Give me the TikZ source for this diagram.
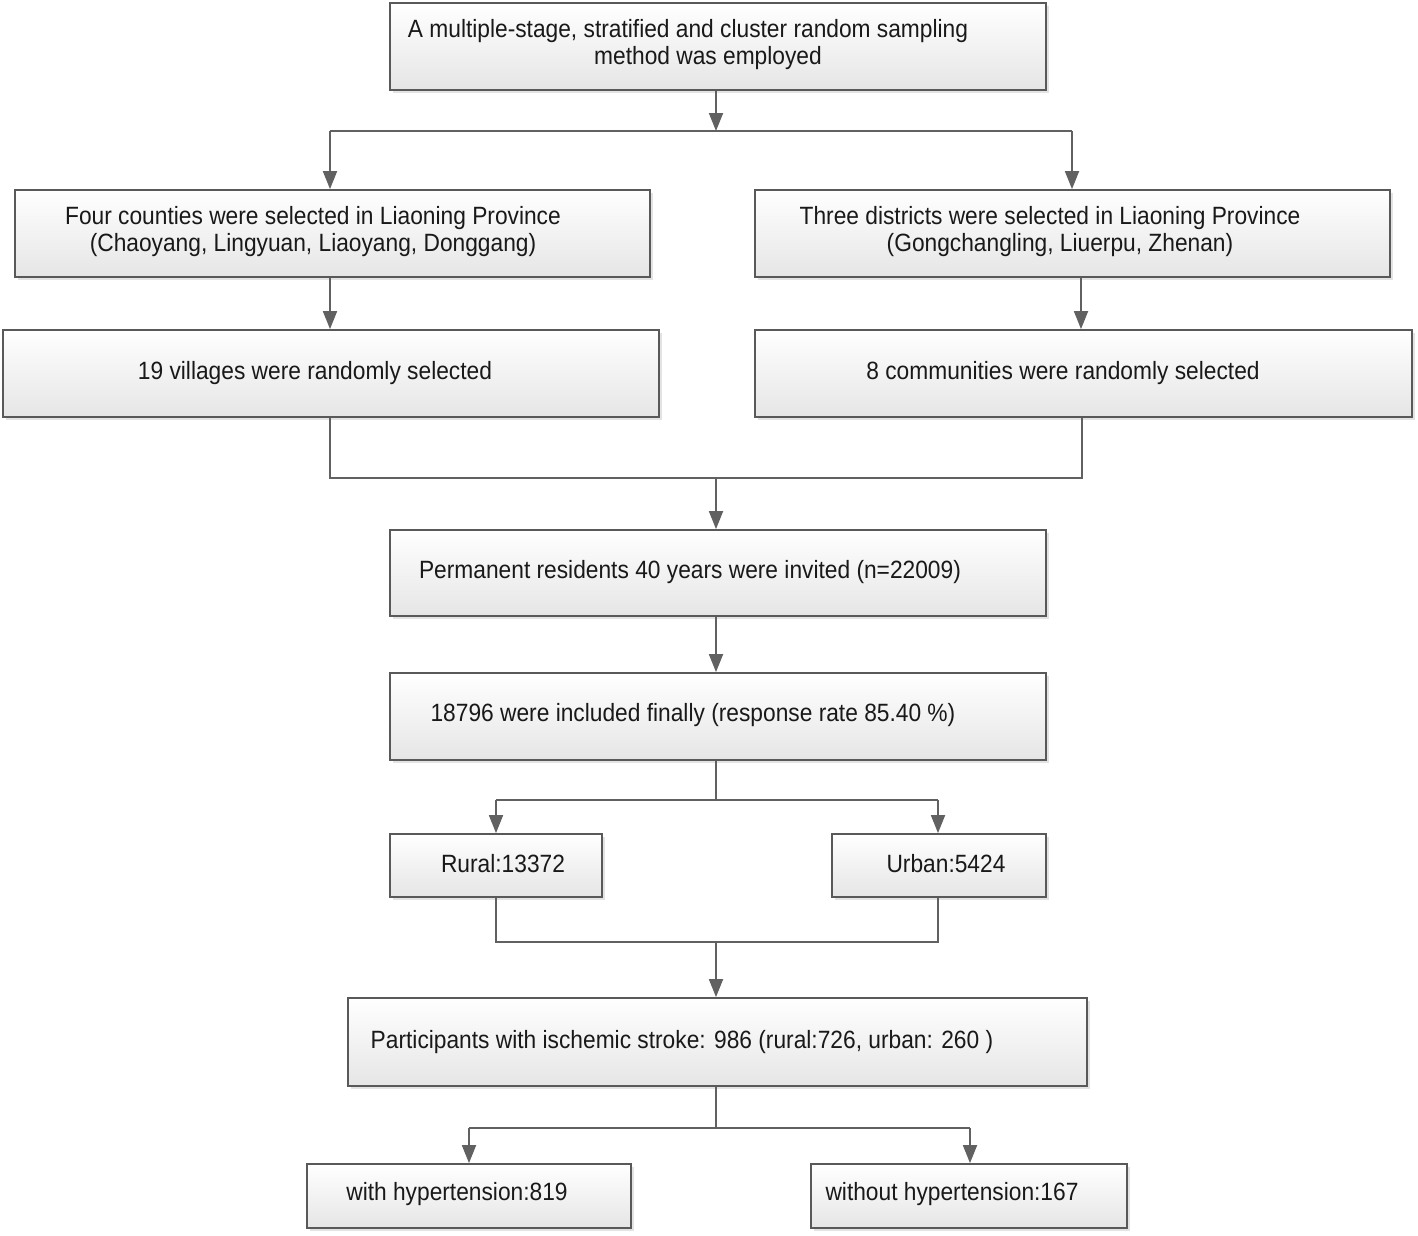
\documentclass[tikz,border=0pt]{standalone}
\usepackage{fontspec}
\setmainfont[FakeStretch=0.91]{Liberation Sans}
\usetikzlibrary{arrows.meta,shadows}
\begin{document}
\begin{tikzpicture}[x=1pt,y=-1pt,
  box/.style={draw=black!65, line width=1.8pt, top color=white, bottom color=black!10,
    drop shadow={shadow xshift=2.5pt, shadow yshift=-2.5pt, fill=black!18, opacity=0.6},
    inner sep=0pt},
  txt/.style={font=\fontsize{25}{27}\selectfont, align=center, inner sep=0pt, text=black!90},
  conn/.style={draw=black!62, line width=1.8pt},
  arr/.style={conn, -{Triangle[length=18pt,width=14pt]}}
]
\useasboundingbox[fill=white] (0,0) rectangle (1418,1235);
% boxes
\node[box, minimum width=656pt, minimum height=87pt] (b1) at (718,46.5) {};
\node[box, minimum width=635pt, minimum height=87pt] (b2) at (332.5,233.5) {};
\node[box, minimum width=635pt, minimum height=87pt] (b3) at (1072.5,233.5) {};
\node[box, minimum width=656pt, minimum height=87pt] (b4) at (331,373.5) {};
\node[box, minimum width=657pt, minimum height=87pt] (b5) at (1083.5,373.5) {};
\node[box, minimum width=656pt, minimum height=86pt] (b6) at (718,573) {};
\node[box, minimum width=656pt, minimum height=87pt] (b7) at (718,716.5) {};
\node[box, minimum width=212pt, minimum height=63pt] (b8) at (496,865.5) {};
\node[box, minimum width=214pt, minimum height=63pt] (b9) at (939,865.5) {};
\node[box, minimum width=739pt, minimum height=88pt] (b10) at (717.5,1042) {};
\node[box, minimum width=324pt, minimum height=64pt] (b11) at (469,1196) {};
\node[box, minimum width=316pt, minimum height=64pt] (b12) at (969,1196) {};
% texts
\node[txt] (t1) at (688,44.5) {A multiple-stage, stratified and cluster random sampling\\\hspace*{40pt}method was employed};
\node[txt] (t2) at (313,232) {Four counties were selected in Liaoning Province\\(Chaoyang, Lingyuan, Liaoyang, Donggang)};
\node[txt] (t3) at (1050,232) {Three districts were selected in Liaoning Province\\\hspace*{20pt}(Gongchangling, Liuerpu, Zhenan)};
\node[txt] (t4) at (315,373) {19 villages were randomly selected};
\node[txt] (t5) at (1063,373) {8 communities were randomly selected};
\node[txt] (t6) at (690,572) {Permanent residents 40 years were invited (n=22009)};
\node[txt] (t7) at (693,715) {18796 were included finally (response rate 85.40 \%)};
\node[txt] (t8) at (503,864) {Rural:13372};
\node[txt] (t9) at (946,864) {Urban:5424};
\node[txt] (t10) at (682,1042) {Participants with ischemic stroke: 986 (rural:726, urban: 260 )};
\node[txt] (t11) at (457,1194) {with hypertension:819};
\node[txt] (t12) at (952,1194) {without hypertension:167};
% junction coordinates
\coordinate (j1) at (716,131);
\coordinate (j1l) at (330,131);
\coordinate (j1r) at (1072,131);
\coordinate (j2) at (716,478);
\coordinate (j3) at (716,800);
\coordinate (j3l) at (496,800);
\coordinate (j3r) at (938,800);
\coordinate (j4) at (716,942);
\coordinate (j5) at (716,1128);
\coordinate (j5l) at (469,1128);
\coordinate (j5r) at (970,1128);
% connectors
\draw[arr] (716,0 |- b1.south) -- (j1);
\draw[conn] (j1l) -- (j1r);
\draw[arr] (j1l) -- (j1l |- b2.north);
\draw[arr] (j1r) -- (j1r |- b3.north);
\draw[arr] (330,0 |- b2.south) -- (330,0 |- b4.north);
\draw[arr] (1081,0 |- b3.south) -- (1081,0 |- b5.north);
\draw[conn] (330,0 |- b4.south) |- (j2) -| (1082,0 |- b5.south);
\draw[arr] (j2) -- (j2 |- b6.north);
\draw[arr] (716,0 |- b6.south) -- (716,0 |- b7.north);
\draw[conn] (716,0 |- b7.south) -- (j3);
\draw[conn] (j3l) -- (j3r);
\draw[arr] (j3l) -- (j3l |- b8.north);
\draw[arr] (j3r) -- (j3r |- b9.north);
\draw[conn] (496,0 |- b8.south) |- (j4) -| (938,0 |- b9.south);
\draw[arr] (j4) -- (j4 |- b10.north);
\draw[conn] (716,0 |- b10.south) -- (j5);
\draw[conn] (j5l) -- (j5r);
\draw[arr] (j5l) -- (j5l |- b11.north);
\draw[arr] (j5r) -- (j5r |- b12.north);
\end{tikzpicture}
\end{document}
